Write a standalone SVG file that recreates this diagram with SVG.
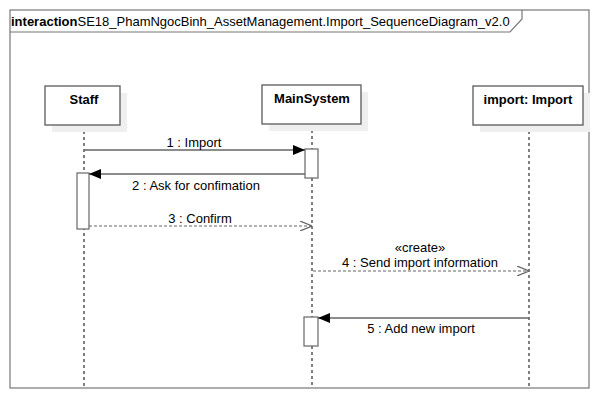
<svg xmlns="http://www.w3.org/2000/svg" width="599" height="400" viewBox="0 0 599 400">
<defs>
<style>
text{font-family:"Liberation Sans",Arial,sans-serif;font-size:13px;fill:#000}
.b{font-weight:bold}
.frame{fill:none;stroke:#777;stroke-width:1.2}
.box{fill:#fff;stroke:#666;stroke-width:1.4}
.shadow{fill:#efefef;stroke:none}
.life{stroke:#000;stroke-width:1;stroke-dasharray:3,3;fill:none}
.act{fill:#fff;stroke:#666;stroke-width:1.2}
.msg{stroke:#666;stroke-width:1.3;fill:none}
.ret{stroke:#666;stroke-width:1.2;stroke-dasharray:3,2;fill:none}
</style>
<marker id="filled" viewBox="0 0 12 10" refX="12" refY="5" markerWidth="12" markerHeight="10" markerUnits="userSpaceOnUse" orient="auto">
<path d="M0,0 L12,5 L0,10 Z" fill="#000"/>
</marker>
<marker id="open" viewBox="0 0 12 10" refX="12" refY="5" markerWidth="12" markerHeight="10" markerUnits="userSpaceOnUse" orient="auto">
<path d="M0,0 L12,5 L0,10" fill="none" stroke="#666" stroke-width="1.2"/>
</marker>
</defs>
<rect width="599" height="400" fill="#fff"/>
<g id="frame">
<rect class="frame" x="10" y="10" width="579" height="378"/>
<path class="frame" d="M10,32 L510,32 L522,19 L522,10"/>
<text x="11" y="26"><tspan class="b">interaction</tspan>SE18_PhamNgocBinh_AssetManagement.Import_SequenceDiagram_v2.0</text>
</g>
<g id="lifelines">
<line class="life" x1="84" y1="125" x2="84" y2="388"/>
<line class="life" x1="312" y1="124" x2="312" y2="388"/>
<line class="life" x1="529" y1="125" x2="529" y2="388"/>
</g>
<g id="staff">
<rect class="shadow" x="52" y="93" width="75" height="39"/>
<rect class="box" x="45" y="86" width="75" height="39"/>
<text class="b" x="84" y="104" text-anchor="middle">Staff</text>
</g>
<g id="mainsystem">
<rect class="shadow" x="269" y="92" width="99" height="39"/>
<rect class="box" x="262" y="85" width="99" height="39"/>
<text class="b" x="312" y="103" text-anchor="middle">MainSystem</text>
</g>
<g id="import">
<rect class="shadow" x="480" y="93" width="110" height="39"/>
<rect class="box" x="473" y="86" width="110" height="39"/>
<text class="b" x="528" y="104" text-anchor="middle">import: Import</text>
</g>
<g id="activations">
<rect class="act" x="305" y="149" width="13" height="29"/>
<rect class="act" x="77" y="173" width="12" height="56"/>
<rect class="act" x="304" y="317" width="14" height="29"/>
</g>
<g id="connectors">
<line class="msg" x1="84" y1="150" x2="305" y2="150" marker-end="url(#filled)"/>
<line class="msg" x1="305" y1="174" x2="89" y2="174" marker-end="url(#filled)"/>
<line class="ret" x1="89" y1="226" x2="312" y2="226" marker-end="url(#open)"/>
<line class="ret" x1="313" y1="271" x2="529" y2="271" marker-end="url(#open)"/>
<line class="msg" x1="529" y1="318" x2="318" y2="318" marker-end="url(#filled)"/>
<text x="194" y="147" text-anchor="middle">1 : Import</text>
<text x="196" y="190" text-anchor="middle">2 : Ask for confimation</text>
<text x="200" y="223" text-anchor="middle">3 : Confirm</text>
<text x="420" y="252" text-anchor="middle">«create»</text>
<text x="420" y="267" text-anchor="middle">4 : Send import information</text>
<text x="421" y="333" text-anchor="middle">5 : Add new import</text>
</g>
</svg>
